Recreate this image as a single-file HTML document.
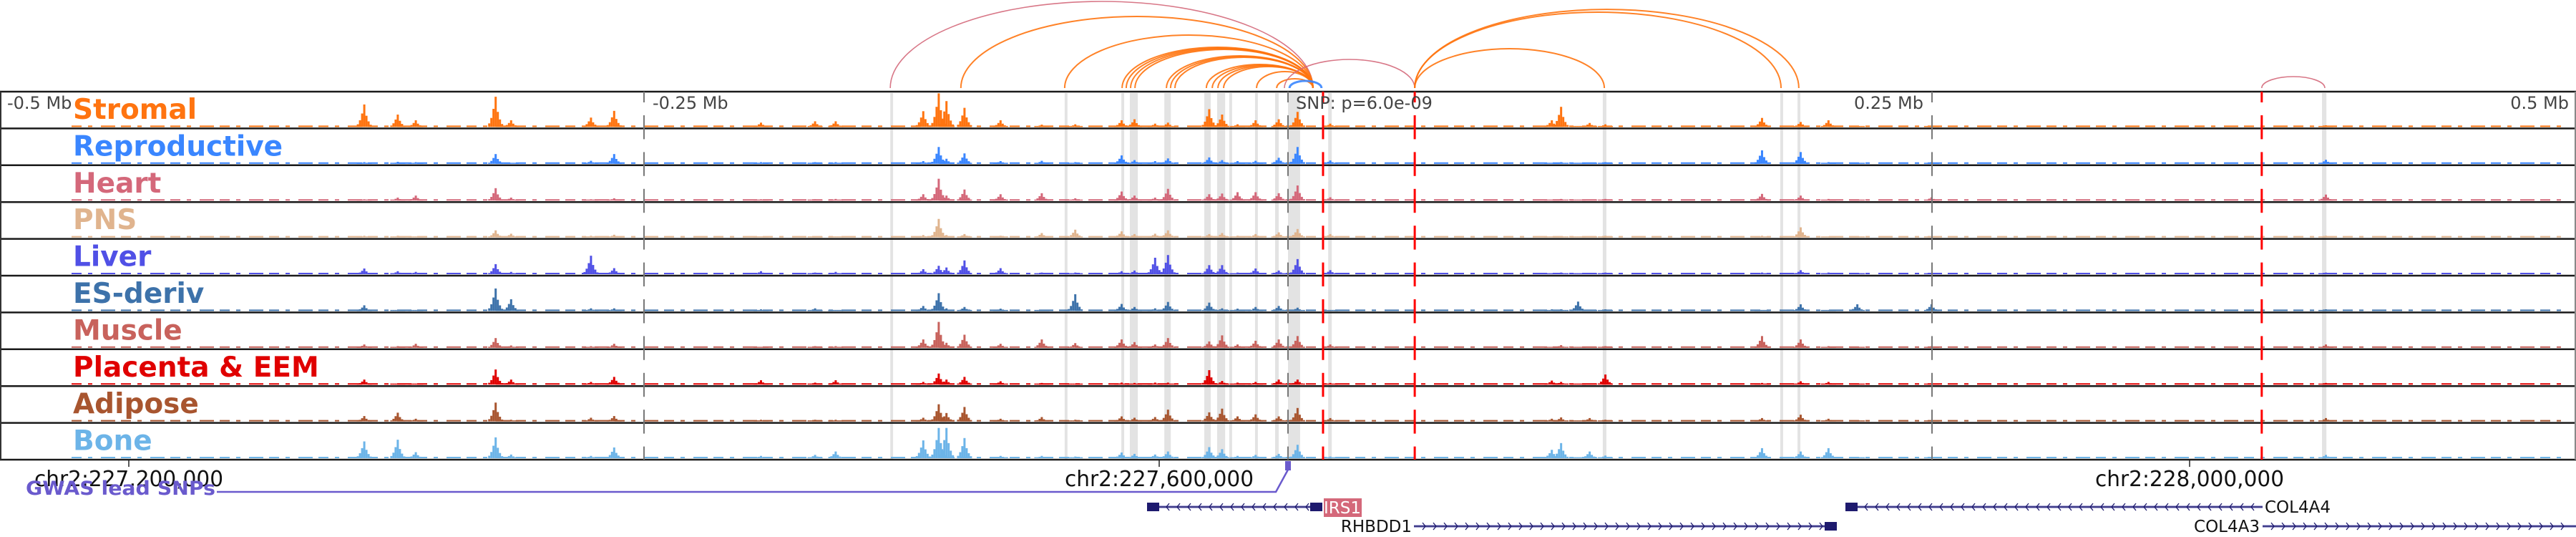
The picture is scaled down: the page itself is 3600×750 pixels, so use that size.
<!DOCTYPE html>
<html><head><meta charset="utf-8">
<style>
html,body{margin:0;padding:0;background:#fff;width:3600px;height:750px;overflow:hidden}
svg text{font-family:"DejaVu Sans","Liberation Sans",sans-serif}
</style></head>
<body>
<svg id="chart" width="3600" height="750" viewBox="0 0 3600 750" xmlns="http://www.w3.org/2000/svg">
<g id="highlights"></g>
<g id="arcs"></g>
<g id="tracks"></g>
<g id="overlay"></g>
<g id="labels"></g>
<g id="genes"></g>
</svg>
<script>
// ---- data ----
const trackNames = ["Stromal","Reproductive","Heart","PNS","Liver","ES-deriv","Muscle","Placenta & EEM","Adipose","Bone"];
const trackColors = ["#ff7410","#3a86ff","#d4687a","#e0b48e","#5050e6","#3d72aa","#c8625c","#e00000","#a8552f","#6cb4e8"];
// peak positions, kb relative to the lead SNP
const peakPos = [-359,-346,-339,-308,-302,-271,-262,-205,-184,-176,-142,-136,-133,-126,-112,-96,-83,-65,-60,-52,-47,-31,-26,-20,-13,-4,3.3,16,102,105.6,112.2,116.7,122.8,183.6,198.6,209.4,220.6,249.4,402.5];
const stromalVals      = [67,37,20,90,20,28,48,13,17,17,47,100,77,57,20,7,8,20,23,10,13,53,37,8,20,23,45,10,20,60,3,12,8,27,15,20,3,3,5];
const reproductiveVals = [5,6,5,29,2,9,29,5,5,5,8,50,15,31,8,9,5,25,11,8,16,19,11,8,9,18,50,10,3,5,3,3,5,40,35,5,3,5,12];
const heartVals        = [4,9,15,37,9,4,7,4,4,5,19,65,15,33,19,22,7,27,15,9,35,19,21,25,25,22,45,10,3,5,3,3,5,20,15,5,3,10,18];
const pnsVals          = [5,5,3,21,11,5,8,3,3,3,7,55,7,10,5,13,23,18,10,11,21,10,13,5,10,15,25,10,3,3,3,3,5,5,30,3,3,3,5];
const liverVals        = [17,9,7,30,7,55,18,9,5,7,15,25,20,41,18,5,5,9,11,49,57,27,27,5,17,11,45,12,3,5,3,3,5,5,12,5,3,3,5];
const esVals           = [17,3,3,67,35,8,8,5,8,3,15,53,8,12,7,3,50,21,12,8,27,25,8,7,12,15,10,3,5,5,28,3,5,3,20,3,20,20,5];
const muscleVals       = [10,5,12,29,7,5,12,3,5,5,25,77,15,39,12,25,14,25,17,10,29,19,37,10,21,25,35,10,3,8,3,3,5,35,25,5,3,5,10];
const placentaVals     = [15,3,3,45,15,8,23,13,6,13,8,33,15,23,10,5,3,6,5,6,6,43,11,6,8,15,15,5,12,8,3,3,30,5,10,8,3,3,5];
const adiposeVals      = [16,26,8,56,5,11,16,5,5,5,11,51,25,43,8,13,5,15,11,13,35,27,38,15,21,15,40,10,8,12,3,10,5,10,20,8,3,3,10];
const boneVals         = [50,55,18,62,11,7,32,7,10,20,53,90,90,60,7,7,5,17,13,11,20,33,27,7,10,13,40,5,25,45,3,20,8,30,20,30,3,3,10];
const trackVals = [stromalVals,reproductiveVals,heartVals,pnsVals,liverVals,esVals,muscleVals,placentaVals,adiposeVals,boneVals];
// arcs: start kb, end kb, height, color class
const arcStart  = [-154.4,-127,-86.7,-64.4,-62.8,-61.1,-59.4,-47.2,-45.6,-43.9,-31.7,-29.4,-27.2,-25,-12.2,-4.4,0.6,-1.4,49.2,49.2,49.2,378];
const arcEnd    = [9.7,9.7,9.7,9.7,9.7,9.7,9.7,9.7,9.7,9.7,9.7,9.7,9.7,9.7,9.7,9.7,13,49.2,191.4,198.3,122.8,402.5];
const arcHeight = [121,100,74,57,56,55,54,45,44,43,33,32,31,30,23,13,10,40,106,110,55,16];
const arcKind   = ["pink","orange","orange","orange","orange","orange","orange","orange","orange","orange","orange","orange","orange","orange","orange","orange","blue","pink","orange","orange","orange","pink"];
// highlighted regions (kb start, kb width)
const hlStart = [-154.4,-86.7,-64.7,-61.4,-48,-32.5,-27.5,-22.8,-12.8,-5,0,15.6,122.2,191.1,197.8,401.4];
const hlWidth = [1.1,1.1,1.1,3.1,2.5,2.5,3.1,1.1,1.1,1.4,4.7,1.4,1.4,1.1,1.1,1.7];
const eqtlLines = [13.6,49.2,378];
const scaleTicks = [-250,0,250];
const rulerLabels = ["-0.5 Mb","-0.25 Mb","SNP: p=6.0e-09","0.25 Mb","0.5 Mb"];
const chromTicks = [-450,-50,350];
const chromLabels = ["chr2:227,200,000","chr2:227,600,000","chr2:228,000,000"];

// ---- axes ----
const X = kb => (kb + 500) * 3.6;
const TOP = 128, TH = 51.4;
const trackTop = i => TOP + TH * i;
const Y = v => v / 100 * 47;
const NS = "http://www.w3.org/2000/svg";
function mk(tag, attrs, parent){const e=document.createElementNS(NS,tag);for(const k in attrs)e.setAttribute(k,attrs[k]);parent.appendChild(e);return e;}

const gH = document.getElementById('highlights');
hlStart.forEach((s,i)=>{
  const r = mk('rect',{x:X(s),y:TOP+2,width:Math.max(3,hlWidth[i]*3.6),height:TH*10-2,fill:'#e3e3e3'},gH);
  
  
});

// arcs
const gA = document.getElementById('arcs');
const arcColor = {pink:'#d4687a',orange:'#ff7410',blue:'#3a86ff'};
arcStart.forEach((s,i)=>{
  const x1=X(s), x2=X(arcEnd[i]), rx=(x2-x1)/2, h=arcHeight[i];
  const p = mk('path',{d:`M${x1},123 A${rx},${h} 0 0 1 ${x2},123`,fill:'none',stroke:arcColor[arcKind[i]],'stroke-width':arcKind[i]==='blue'?3:(arcKind[i]==='pink'?1.6:2),opacity:0.9},gA);
  
  
});

// tracks
const gT = document.getElementById('tracks');
trackVals.forEach((vals,t)=>{
  const base = trackTop(t+1) - 2;
  const g = mk('g',{},gT);
  
  
  const bl = mk('line',{x1:100,x2:3590,y1:base-1,y2:base-1,stroke:trackColors[t],'stroke-width':2,'stroke-dasharray':'14 9 6 12 20 8'},g);
  
  
  peakPos.forEach((p,j)=>{
    const x = X(p), h = Y(vals[j]);
    const parts = [[-9,0.12],[-6,0.3],[-3,0.6],[0,1],[3,0.5],[6,0.25],[9,0.1]];
    parts.forEach(([dx,f])=>{
      const hh = Math.max(1.5, h*f);
      const r = mk('rect',{x:x+dx,y:base-hh,width:3,height:hh,fill:trackColors[t]},g);
      
      
    });
  });
});

// overlay: frame, dashed lines
const gO = document.getElementById('overlay');
for(let i=0;i<=10;i++){
  const l = mk('line',{x1:0,x2:3600,y1:trackTop(i),y2:trackTop(i),stroke:'#1a1a1a','stroke-width':2.5},gO);
  
  
}
mk('line',{x1:1,x2:1,y1:TOP,y2:trackTop(10),stroke:'#333','stroke-width':2},gO);
mk('line',{x1:3599,x2:3599,y1:TOP,y2:trackTop(10),stroke:'#888','stroke-width':2},gO);
function dashed(x,color,w,name){
  for(let i=0;i<10;i++){
    const t=trackTop(i);
    const a=mk('line',{x1:x,x2:x,y1:t,y2:t+15,stroke:color,'stroke-width':w},gO);
    
    
    const b=mk('line',{x1:x,x2:x,y1:t+33,y2:t+TH,stroke:color,'stroke-width':w},gO);
    
    
  }
}
scaleTicks.forEach(k=>dashed(X(k),'#777',2,'scale-line'));
eqtlLines.forEach(k=>dashed(X(k),'#ff0000',3,'eqtl-line'));

// labels
const gL = document.getElementById('labels');
trackNames.forEach((n,i)=>{
  const t = mk('text',{x:102,y:trackTop(i)+38,'font-size':39,'font-weight':'bold',fill:trackColors[i]},gL);
  t.textContent = n;
  
  
});
const rulerX = [10,912,1811,2688,3590];
const rulerAnchor = ['start','start','start','end','end'];
rulerLabels.forEach((s,i)=>{
  const t = mk('text',{x:rulerX[i],y:152,'font-size':24,fill:'#444','text-anchor':rulerAnchor[i]},gL);
  t.textContent = s;
  
  
});
chromTicks.forEach((k,i)=>{
  const x = X(k);
  mk('line',{x1:x,x2:x,y1:643,y2:652,stroke:'#222','stroke-width':1.5},gL);
  const t = mk('text',{x:x,y:679,'font-size':30,fill:'#111','text-anchor':'middle','font-family':'Liberation Sans, sans-serif',textLength:264,lengthAdjust:'spacingAndGlyphs'},gL);
  t.textContent = chromLabels[i];
  
  
});
// GWAS track
const gw = mk('text',{x:36,y:691,'font-size':27,'font-weight':'bold',fill:'#6a5acd',textLength:265,lengthAdjust:'spacingAndGlyphs'},gL);
gw.textContent = 'GWAS lead SNPs';


mk('polyline',{points:`303,687 ${X(-4.7)},687 ${X(0)},656`,fill:'none',stroke:'#6a5acd','stroke-width':2.5},gL);
const snp = mk('rect',{x:X(0)-4,y:644,width:8,height:13,fill:'#6a5acd'},gL);



// genes
const gG = document.getElementById('genes');
function gene(name,x1,x2,y,dir,labelX,labelAnchor,boxes,badge){
  const g = mk('g',{},gG);
  
  
  mk('line',{x1:x1,x2:x2,y1:y,y2:y,stroke:'#aaa8d8','stroke-width':4},g);
  mk('line',{x1:x1,x2:x2,y1:y,y2:y,stroke:'#1e1a6e','stroke-width':1.5},g);
  let d='';
  for(let x=x1+12;x<x2-8;x+=15){
    d += dir<0 ? `M${x+4},${y-5} L${x},${y} L${x+4},${y+5} ` : `M${x},${y-5} L${x+4},${y} L${x},${y+5} `;
  }
  mk('path',{d:d,fill:'none',stroke:'#1e1a6e','stroke-width':1.3},g);
  boxes.forEach(b=>mk('rect',{x:b,y:y-6,width:17,height:12,fill:'#1e1a6e'},g));
  if(badge){
    mk('rect',{x:labelX,y:y-12,width:53,height:26,fill:'#d4687a'},g);
    const t=mk('text',{x:labelX+26,y:y+9,'font-size':23,fill:'#fff','text-anchor':'middle','font-family':'Liberation Sans, sans-serif'},g);
    t.textContent=name;
  } else {
    const t=mk('text',{x:labelX,y:y+8,'font-size':23,fill:'#111','text-anchor':labelAnchor,'font-family':'Liberation Sans, sans-serif'},g);
    t.textContent=name;
  }
}
gene('IRS1',1603,1848,708,-1,1850,'start',[1603,1831],true);
gene('RHBDD1',1976,2567,735,1,1973,'end',[2550],false);
gene('COL4A4',2579,3162,708,-1,3165,'start',[2579],false);
gene('COL4A3',3162,3600,735,1,3158,'end',[],false);
</script>
</body></html>
